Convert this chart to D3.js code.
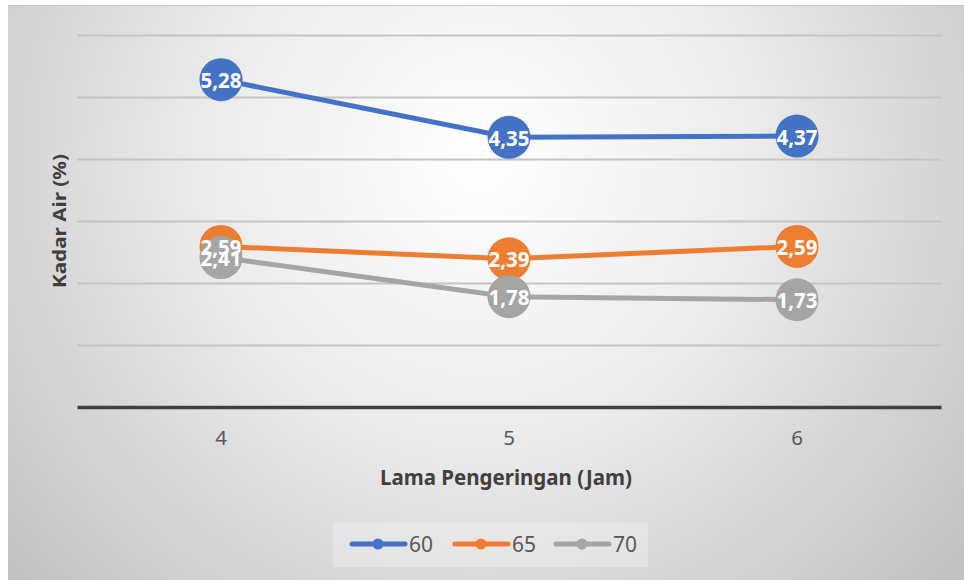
<!DOCTYPE html>
<html>
<head>
<meta charset="utf-8">
<script src="https://cdn.jsdelivr.net/npm/d3@7"></script>
<style>
  html, body { margin: 0; padding: 0; background: #fff; }
  svg { display: block; font-family: "Noto Sans", "Open Sans", sans-serif; }
</style>
</head>
<body>
<div id="chart"></div>
<script>
var WIDTH = 964, HEIGHT = 580;

// data
var categories = ['4', '5', '6'];
var seriesNames = ['60', '65', '70'];
var seriesColors = ['#4472C4', '#ED7D31', '#A5A5A5'];
var values60 = [5.28, 4.35, 4.37];
var values65 = [2.59, 2.39, 2.59];
var values70 = [2.41, 1.78, 1.73];
var gridTicks = [1, 2, 3, 4, 5, 6];

var series = [values60, values65, values70].map(function(vals, i) {
  return { name: seriesNames[i], color: seriesColors[i], values: vals };
});

var plot = { left: 77, right: 941, top: 35, bottom: 407 };

var x = d3.scaleBand()
  .domain(categories)
  .range([plot.left, plot.right]);

var y = d3.scaleLinear()
  .domain([0, 6])
  .range([plot.bottom, plot.top]);

function cx(i) { return x(categories[i]) + x.bandwidth() / 2; }

var svg = d3.select('#chart')
  .append('svg')
  .attr('width', WIDTH)
  .attr('height', HEIGHT);

var defs = svg.append('defs');
var grad = defs.append('radialGradient')
  .attr('id', 'bg')
  .attr('gradientUnits', 'userSpaceOnUse')
  .attr('cx', 480).attr('cy', 160).attr('r', 620);
grad.append('stop').attr('offset', '0').attr('stop-color', '#ffffff');
grad.append('stop').attr('offset', '0.45').attr('stop-color', '#ebebeb');
grad.append('stop').attr('offset', '1').attr('stop-color', '#c2c2c2');

// chart background with thin top border
svg.append('rect')
  .attr('x', 8).attr('y', 5)
  .attr('width', WIDTH - 8).attr('height', HEIGHT - 5)
  .attr('fill', 'url(#bg)');
svg.append('line')
  .attr('x1', 8).attr('x2', WIDTH)
  .attr('y1', 5.5).attr('y2', 5.5)
  .attr('stroke', '#c8c8c8').attr('stroke-width', 1);

// gridlines
svg.append('g')
  .selectAll('line')
  .data(gridTicks)
  .join('line')
    .attr('x1', plot.left).attr('x2', plot.right)
    .attr('y1', function(d) { return Math.round(y(d)) + 0.5; })
    .attr('y2', function(d) { return Math.round(y(d)) + 0.5; })
    .attr('stroke', '#c4c4c4')
    .attr('stroke-width', 2);

// x axis
var xAxis = svg.append('g')
  .attr('transform', 'translate(0,' + plot.bottom + ')')
  .call(d3.axisBottom(x).tickSize(0).tickPadding(23));
xAxis.select('.domain')
  .attr('stroke', '#404040')
  .attr('stroke-width', 3.5);
xAxis.selectAll('text')
  .attr('font-size', 20.5)
  .attr('font-family', '"Noto Sans", sans-serif')
  .attr('fill', '#595959');

// axis titles
svg.append('text')
  .attr('x', 506).attr('y', 485)
  .attr('text-anchor', 'middle')
  .attr('font-size', 20.5)
  .attr('font-weight', 'bold')
  .attr('fill', '#404040')
  .text('Lama Pengeringan (Jam)');

svg.append('text')
  .attr('transform', 'translate(66,221) rotate(-90)')
  .attr('text-anchor', 'middle')
  .attr('font-size', 18)
  .attr('font-weight', 'bold')
  .attr('fill', '#404040')
  .attr('textLength', 134)
  .attr('lengthAdjust', 'spacingAndGlyphs')
  .text('Kadar Air (%)');

// lines and markers
var line = d3.line()
  .x(function(d, i) { return cx(i); })
  .y(function(d) { return y(d); });

var groups = svg.append('g')
  .selectAll('g')
  .data(series)
  .join('g');

groups.append('path')
  .attr('d', function(s) { return line(s.values); })
  .attr('fill', 'none')
  .attr('stroke', function(s) { return s.color; })
  .attr('stroke-width', 5)
  .attr('stroke-linecap', 'round');

groups.selectAll('circle')
  .data(function(s) { return s.values.map(function(v) { return { v: v, color: s.color }; }); })
  .join('circle')
    .attr('cx', function(d, i) { return cx(i); })
    .attr('cy', function(d) { return y(d.v); })
    .attr('r', 21.5)
    .attr('fill', function(d) { return d.color; });

// data labels on top of every marker
var fmt = function(v) { return d3.format('.2f')(v).replace('.', ','); };
var labels = [];
series.forEach(function(s) {
  s.values.forEach(function(v, i) { labels.push({ v: v, i: i }); });
});
svg.append('g')
  .selectAll('text')
  .data(labels)
  .join('text')
    .attr('x', function(d) { return cx(d.i); })
    .attr('y', function(d) { return y(d.v) + 8.5; })
    .attr('text-anchor', 'middle')
    .attr('font-size', 20.5)
    .attr('font-weight', 'bold')
    .attr('fill', '#ffffff')
    .text(function(d) { return fmt(d.v); });

// legend
var legend = svg.append('g');
legend.append('rect')
  .attr('x', 333).attr('y', 523)
  .attr('width', 315).attr('height', 44)
  .attr('fill', '#ffffff')
  .attr('fill-opacity', 0.25);

var legendX = [350, 453, 554];
var items = legend.selectAll('g.item')
  .data(series)
  .join('g')
    .attr('class', 'item')
    .attr('transform', function(d, i) { return 'translate(' + legendX[i] + ',544)'; });
items.append('line')
  .attr('x1', 2).attr('x2', 55)
  .attr('stroke', function(d) { return d.color; })
  .attr('stroke-width', 5)
  .attr('stroke-linecap', 'round');
items.append('circle')
  .attr('cx', 28).attr('r', 5.5)
  .attr('fill', function(d) { return d.color; });
items.append('text')
  .attr('x', 59).attr('y', 8)
  .attr('font-size', 21)
  .attr('fill', '#595959')
  .text(function(d) { return d.name; });
</script>
</body>
</html>
